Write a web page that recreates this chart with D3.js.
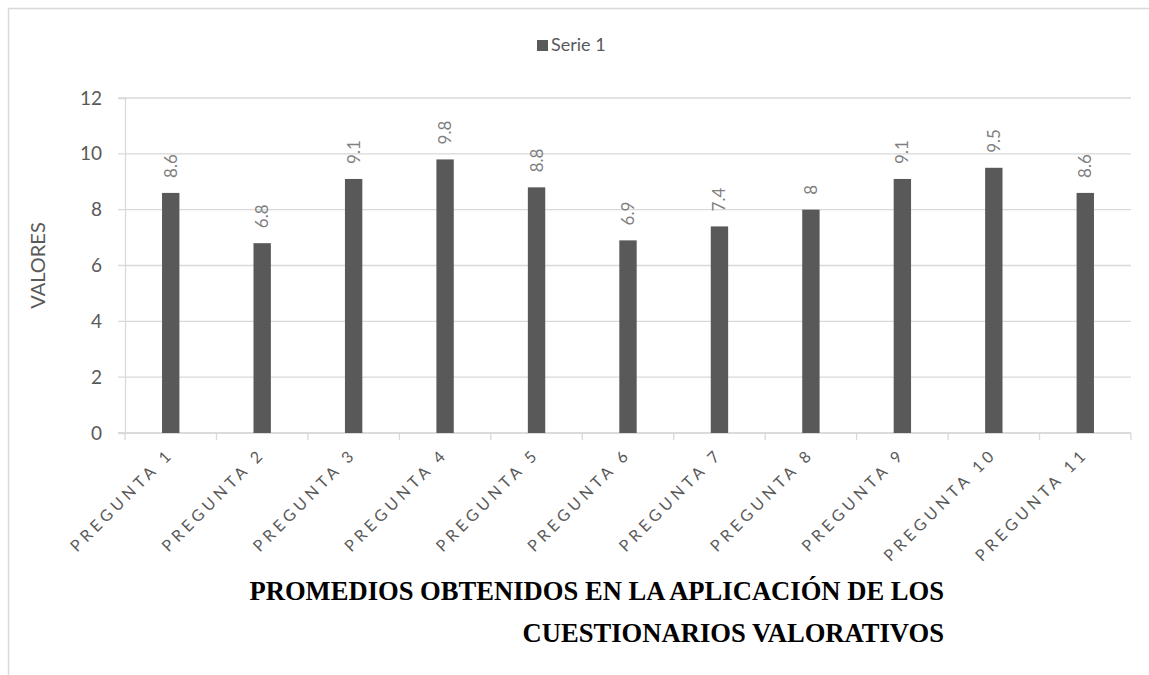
<!DOCTYPE html>
<html>
<head>
<meta charset="utf-8">
<script src="https://cdn.jsdelivr.net/npm/d3@7"></script>
<style>
  body { margin: 0; background: #fff; }
  svg { display: block; }
</style>
</head>
<body>
<div id="chart"></div>
<script>
// chart data
const categories = ["PREGUNTA 1", "PREGUNTA 2", "PREGUNTA 3", "PREGUNTA 4", "PREGUNTA 5",
  "PREGUNTA 6", "PREGUNTA 7", "PREGUNTA 8", "PREGUNTA 9", "PREGUNTA 10", "PREGUNTA 11"];
const serie1 = [8.6, 6.8, 9.1, 9.8, 8.8, 6.9, 7.4, 8, 9.1, 9.5, 8.6];
const yTicks = [0, 2, 4, 6, 8, 10, 12];
const seriesName = "Serie 1";
const yTitle = "VALORES";
const titleLines = ["PROMEDIOS OBTENIDOS EN LA APLICACIÓN DE LOS", "CUESTIONARIOS VALORATIVOS"];

const width = 1149;
const height = 675;
const margin = {left: 125, right: 18, top: 98, bottom: 242};
const font = "Lato, 'Open Sans', sans-serif";

const svg = d3.select("#chart")
  .append("svg")
  .attr("width", width)
  .attr("height", height);

// outer chart border (only top and left visible)
svg.append("rect")
  .attr("x", 8.5).attr("y", 8.5)
  .attr("width", 1200).attr("height", 800)
  .attr("fill", "none")
  .attr("stroke", "#d9d9d9")
  .attr("stroke-width", 1.5);

// scales
const x = d3.scaleBand()
  .domain(categories)
  .range([margin.left, width - margin.right])
  .padding(0);

const y = d3.scaleLinear()
  .domain([0, 12])
  .range([height - margin.bottom, margin.top]);

const barW = x.bandwidth() * 0.19;

// gridlines
svg.append("g")
  .selectAll("line")
  .data(yTicks)
  .enter()
  .append("line")
    .attr("x1", margin.left - 7)
    .attr("x2", width - margin.right)
    .attr("y1", d => y(d))
    .attr("y2", d => y(d))
    .attr("stroke", "#d9d9d9")
    .attr("stroke-width", 1.3);

// y axis
const yAxis = svg.append("g")
  .attr("transform", `translate(${margin.left}, 0)`)
  .call(d3.axisLeft(y).tickValues(yTicks).tickSize(7).tickPadding(16));
yAxis.select(".domain").attr("stroke", "#d9d9d9").attr("stroke-width", 1.3);
yAxis.selectAll(".tick line").attr("stroke", "none");
yAxis.selectAll("text")
  .attr("font-family", font)
  .attr("font-size", "19px")
  .attr("fill", "#595959");

// x axis
const xTickVals = categories.map(c => x(c)).concat([width - margin.right]);
const xAxis = svg.append("g")
  .attr("transform", `translate(0, ${height - margin.bottom})`);
xAxis.append("line")
  .attr("x1", margin.left - 7).attr("x2", width - margin.right)
  .attr("stroke", "#d9d9d9").attr("stroke-width", 1.3);
xAxis.selectAll(".xtick")
  .data(xTickVals)
  .enter()
  .append("line")
    .attr("class", "xtick")
    .attr("x1", d => d).attr("x2", d => d)
    .attr("y1", 0).attr("y2", 7)
    .attr("stroke", "#d9d9d9").attr("stroke-width", 1.3);
xAxis.selectAll(".xlabel")
  .data(categories)
  .enter()
  .append("text")
    .attr("class", "xlabel")
    .attr("transform", d => `translate(${x(d) + x.bandwidth() / 2 + 4}, 22) rotate(-45)`)
    .attr("text-anchor", "end")
    .attr("font-family", font)
    .attr("font-size", "16px")
    .attr("letter-spacing", "4.2px")
    .attr("fill", "#595959")
    .text(d => d);

// bars
svg.selectAll(".bar")
  .data(serie1)
  .enter()
  .append("rect")
    .attr("class", "bar")
    .attr("x", (d, i) => x(categories[i]) + (x.bandwidth() - barW) / 2)
    .attr("y", d => y(d))
    .attr("width", barW)
    .attr("height", d => y(0) - y(d))
    .attr("fill", "#595959");

// data labels
svg.selectAll(".lbl")
  .data(serie1)
  .enter()
  .append("text")
    .attr("class", "lbl")
    .attr("transform", (d, i) => `translate(${x(categories[i]) + x.bandwidth() / 2 + 6}, ${y(d) - 15}) rotate(-90)`)
    .attr("text-anchor", "start")
    .attr("font-family", font)
    .attr("font-size", "17px")
    .attr("fill", "#7f7f7f")
    .text(d => d);

// y title
svg.append("text")
  .attr("transform", `translate(45, ${y(6)}) rotate(-90)`)
  .attr("text-anchor", "middle")
  .attr("font-family", font)
  .attr("font-size", "20px")
  .attr("fill", "#595959")
  .text(yTitle);

// legend
const legend = svg.append("g").attr("transform", "translate(537, 40)");
legend.append("rect")
  .attr("width", 11).attr("height", 11)
  .attr("fill", "#595959");
legend.append("text")
  .attr("x", 14).attr("y", 11)
  .attr("font-family", font)
  .attr("font-size", "18px")
  .attr("fill", "#595959")
  .text(seriesName);

// chart title (bold serif, right aligned)
svg.append("g")
  .selectAll("text")
  .data(titleLines)
  .enter()
  .append("text")
    .attr("x", 944)
    .attr("y", (d, i) => 600 + i * 42)
    .attr("text-anchor", "end")
    .attr("font-family", "'Liberation Serif', 'Times New Roman', serif")
    .attr("font-weight", "bold")
    .attr("font-size", "26.6px")
    .attr("fill", "#000")
    .text(d => d);
</script>
</body>
</html>
